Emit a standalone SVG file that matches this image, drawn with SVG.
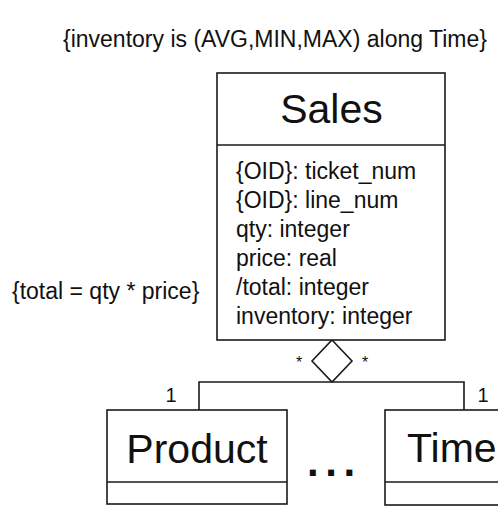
<svg xmlns="http://www.w3.org/2000/svg" width="498" height="509" viewBox="0 0 498 509">
<style>
  .box { fill: #fff; stroke: #1a1a1a; stroke-width: 1.6; }
  .line { fill: none; stroke: #1a1a1a; stroke-width: 1.6; }
  .t { font-family: "Liberation Sans", Arial, sans-serif; fill: #111; }
  .small { font-size: 23px; }
  .title { font-size: 41px; }
  .mult { font-size: 20px; }
  .star { font-size: 16px; }
  .dots { font-size: 42px; font-weight: bold; letter-spacing: 6.6px; }
</style>
<rect width="498" height="509" fill="#fff"/>
<text class="t small" x="63" y="47">{inventory is (AVG,MIN,MAX) along Time}</text>
<text class="t small" x="12" y="299">{total = qty * price}</text>
<g id="connectors">
  <polyline class="line" points="199,410 199,382 464,382 464,410"/>
  <polygon class="line" points="332,340 352,361 332,382 312,361" style="fill:#fff"/>
  <text class="t star" x="299" y="368" text-anchor="middle">*</text>
  <text class="t star" x="365" y="368" text-anchor="middle">*</text>
  <text class="t mult" x="171" y="402" text-anchor="middle">1</text>
  <text class="t mult" x="483" y="402" text-anchor="middle">1</text>
</g>
<g id="sales">
  <rect class="box" x="217" y="73" width="228" height="267"/>
  <line class="line" x1="217" y1="145" x2="445" y2="145"/>
  <text class="t title" x="331.5" y="123" text-anchor="middle">Sales</text>
  <text class="t small" x="236" y="179">{OID}: ticket_num</text>
  <text class="t small" x="236" y="208">{OID}: line_num</text>
  <text class="t small" x="236" y="237">qty: integer</text>
  <text class="t small" x="236" y="266">price: real</text>
  <text class="t small" x="236" y="295">/total: integer</text>
  <text class="t small" x="236" y="324">inventory: integer</text>
</g>
<g id="product">
  <rect class="box" x="107" y="410" width="180" height="94"/>
  <line class="line" x1="107" y1="482" x2="287" y2="482"/>
  <text class="t title" x="197" y="463" text-anchor="middle">Product</text>
</g>
<text class="t dots" x="307" y="476">...</text>
<g id="time">
  <rect class="box" x="385" y="410" width="160" height="95"/>
  <line class="line" x1="385" y1="482" x2="545" y2="482"/>
  <text class="t title" x="407" y="462">Time</text>
</g>
</svg>
